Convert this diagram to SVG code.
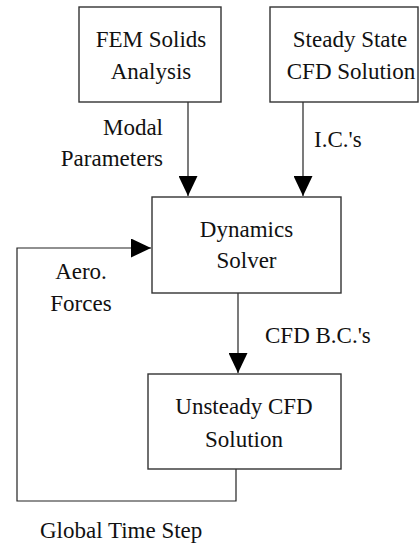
<svg xmlns="http://www.w3.org/2000/svg" width="420" height="546" viewBox="0 0 420 546">
<style>
.box{fill:#fff;stroke:#333;stroke-width:1.4}
.ln{fill:none;stroke:#222;stroke-width:1.2}
text{font-family:'Liberation Serif','DejaVu Serif',serif;font-size:23px;fill:#111}
.c{text-anchor:middle}
.e{text-anchor:end}
</style>
<defs>
<marker id="ah" markerWidth="20" markerHeight="19" refX="20" refY="9.5" orient="auto" markerUnits="userSpaceOnUse">
<path d="M0,0 L20,9.5 L0,19 Z" fill="#000"/>
</marker>
</defs>
<g id="connectors">
<path class="ln" d="M188,102 V196" marker-end="url(#ah)"/>
<path class="ln" d="M303,102 V196" marker-end="url(#ah)"/>
<path class="ln" d="M238,293 V373" marker-end="url(#ah)"/>
<path class="ln" d="M236,469 V501 H17 V248 H151" marker-end="url(#ah)"/>
<text class="e" x="163" y="135">Modal</text>
<text class="e" x="163" y="166">Parameters</text>
<text x="314" y="147">I.C.'s</text>
<text x="265" y="343">CFD B.C.'s</text>
<text class="c" x="81" y="279">Aero.</text>
<text class="c" x="81" y="311">Forces</text>
<text x="40" y="538">Global Time Step</text>
</g>
<g id="fem">
<rect class="box" x="79" y="7" width="142" height="95"/>
<text class="c" x="151" y="47">FEM Solids</text>
<text class="c" x="151" y="79">Analysis</text>
</g>
<g id="steady">
<rect class="box" x="270" y="7" width="148" height="95"/>
<text class="c" x="350" y="47">Steady State</text>
<text class="c" x="351" y="79">CFD Solution</text>
</g>
<g id="dynamics">
<rect class="box" x="152" y="197" width="189" height="96"/>
<text class="c" x="246.5" y="237">Dynamics</text>
<text class="c" x="246.5" y="268">Solver</text>
</g>
<g id="unsteady">
<rect class="box" x="148" y="374" width="193" height="95"/>
<text class="c" x="244" y="414">Unsteady CFD</text>
<text class="c" x="244" y="447">Solution</text>
</g>
</svg>
